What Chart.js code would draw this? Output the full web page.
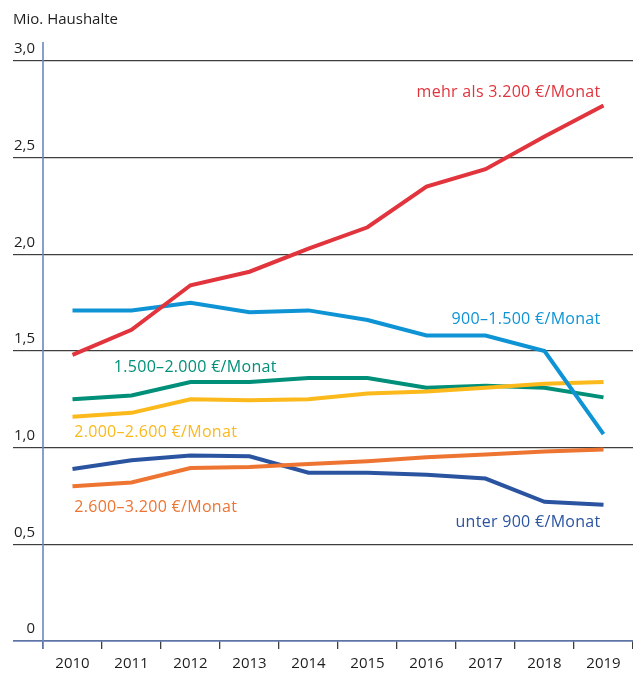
<!DOCTYPE html>
<html>
<head>
<meta charset="utf-8">
<script src="https://cdn.jsdelivr.net/npm/chart.js@4/dist/chart.umd.min.js"></script>
<style>
  html, body { margin: 0; padding: 0; background: #fff; }
  #wrap { width: 633px; height: 675px; }
</style>
</head>
<body>
<div id="wrap"><canvas id="c" width="633" height="675"></canvas></div>
<script>
// Private households by monthly net income, in millions
const years = ['2010', '2011', '2012', '2013', '2014', '2015', '2016', '2017', '2018', '2019'];
const yTickLabels = ['0', '0,5', '1,0', '1,5', '2,0', '2,5', '3,0'];

const over3200   = [1.48, 1.61, 1.84, 1.91, 2.03, 2.14, 2.35, 2.44, 2.61, 2.77];
const from900    = [1.71, 1.71, 1.75, 1.70, 1.71, 1.66, 1.58, 1.58, 1.50, 1.07];
const from1500   = [1.25, 1.27, 1.34, 1.34, 1.36, 1.36, 1.31, 1.32, 1.31, 1.26];
const from2000   = [1.16, 1.18, 1.25, 1.245, 1.25, 1.28, 1.29, 1.31, 1.33, 1.34];
const from2600   = [0.80, 0.82, 0.895, 0.90, 0.915, 0.93, 0.95, 0.965, 0.98, 0.99];
const under900   = [0.89, 0.935, 0.96, 0.955, 0.87, 0.87, 0.86, 0.84, 0.72, 0.705];

const seriesNames = [
  'mehr als 3.200 €/Monat',
  '900–1.500 €/Monat',
  '1.500–2.000 €/Monat',
  '2.000–2.600 €/Monat',
  '2.600–3.200 €/Monat',
  'unter 900 €/Monat'
];

const COLORS = {
  red: '#e1343d',
  lightBlue: '#0e93d5',
  teal: '#008f78',
  yellow: '#fbb91c',
  orange: '#ee7432',
  darkBlue: '#2a54a0',
  axis: '#6b88c2',
  grid: '#3e3e3e',
  text: '#1e1e1e'
};
const FONT = "'Open Sans', 'Noto Sans', sans-serif";

// Inline series labels: x in category units, y (baseline) in data units
const labelAnchors = [
  { text: seriesNames[0], color: COLORS.red,       x: 8.95, y: 2.812, align: 'right' },
  { text: seriesNames[1], color: COLORS.lightBlue, x: 8.95, y: 1.639, align: 'right' },
  { text: seriesNames[2], color: COLORS.teal,      x: 0.70, y: 1.393, align: 'left' },
  { text: seriesNames[3], color: COLORS.yellow,    x: 0.03, y: 1.054, align: 'left' },
  { text: seriesNames[4], color: COLORS.orange,    x: 0.03, y: 0.669, align: 'left' },
  { text: seriesNames[5], color: COLORS.darkBlue,  x: 8.95, y: 0.591, align: 'right' }
];

Chart.defaults.font.family = FONT;
Chart.defaults.font.size = 15;

const line = (label, data, color) => ({
  label, data,
  borderColor: color,
  backgroundColor: color,
  borderWidth: 4,
  pointRadius: 0,
  tension: 0,
  fill: false,
  borderCapStyle: 'butt'
});

// Axis lines, unit caption and series labels
const decor = {
  id: 'decor',
  afterDraw(chart) {
    const { ctx, chartArea: a, scales: { x, y } } = chart;
    ctx.save();
    ctx.strokeStyle = COLORS.axis;
    ctx.lineWidth = 1.6;
    ctx.beginPath();
    ctx.moveTo(a.left, a.top - 19);
    ctx.lineTo(a.left, a.bottom + 8);
    ctx.stroke();
    ctx.beginPath();
    ctx.moveTo(a.left - 30, y.getPixelForValue(0));
    ctx.lineTo(a.right, y.getPixelForValue(0));
    ctx.stroke();

    ctx.textBaseline = 'alphabetic';
    ctx.font = '15px ' + FONT;
    ctx.fillStyle = COLORS.text;
    ctx.textAlign = 'left';
    ctx.fillText('Mio. Haushalte', a.left - 30, 24);

    ctx.font = '16px ' + FONT;
    if ('letterSpacing' in ctx) ctx.letterSpacing = '0.3px';
    const x0 = x.getPixelForValue(0);
    const step = x.getPixelForValue(1) - x0;
    labelAnchors.forEach(l => {
      ctx.fillStyle = l.color;
      ctx.textAlign = l.align;
      ctx.fillText(l.text, x0 + l.x * step, y.getPixelForValue(l.y));
    });
    ctx.restore();
  }
};

new Chart(document.getElementById('c'), {
  type: 'line',
  data: {
    labels: years,
    datasets: [
      line(seriesNames[0], over3200, COLORS.red),
      line(seriesNames[1], from900, COLORS.lightBlue),
      line(seriesNames[4], from2600, COLORS.orange),
      line(seriesNames[3], from2000, COLORS.yellow),
      line(seriesNames[2], from1500, COLORS.teal),
      line(seriesNames[5], under900, COLORS.darkBlue)
    ]
  },
  options: {
    responsive: false,
    animation: false,
    devicePixelRatio: 1,
    layout: { padding: { top: 61, right: 0, bottom: 0, left: 0 } },
    plugins: { legend: { display: false }, tooltip: { enabled: false } },
    scales: {
      x: {
        type: 'category',
        offset: true,
        grid: {
          offset: true,
          drawOnChartArea: false,
          drawTicks: true,
          tickLength: 8,
          tickColor: COLORS.grid,
          lineWidth: 1.3
        },
        border: { display: false },
        ticks: { padding: 6, color: COLORS.text, maxRotation: 0, autoSkip: false },
        afterFit(s) { s.height = 34; }
      },
      y: {
        min: 0,
        max: 3,
        grid: { color: COLORS.grid, lineWidth: 1.2, drawTicks: true, tickLength: 30 },
        border: { display: false },
        ticks: {
          stepSize: 0.5,
          padding: -22,
          labelOffset: -12,
          color: COLORS.text,
          callback: (v, i) => yTickLabels[i]
        },
        afterFit(s) { s.width = 43; }
      }
    }
  },
  plugins: [decor]
});
</script>
</body>
</html>
